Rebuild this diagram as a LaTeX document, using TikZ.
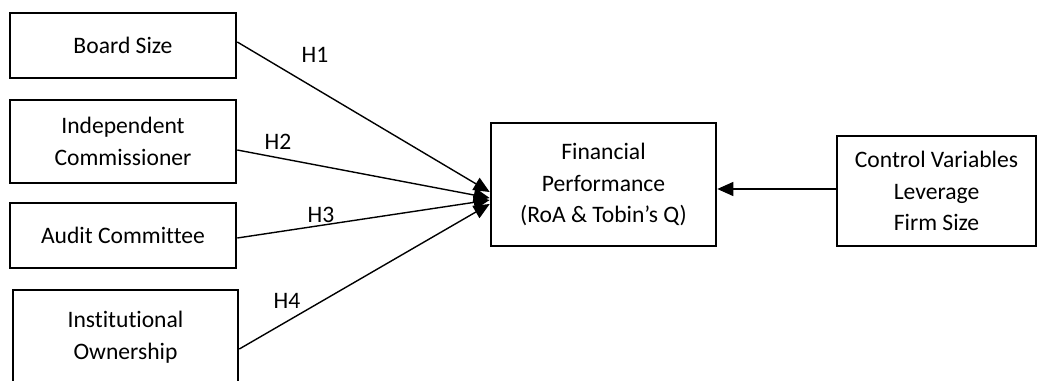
\documentclass[tikz,border=0pt]{standalone}
\usepackage{fontspec}
\setmainfont{Carlito}[Ligatures=NoCommon]
\usetikzlibrary{arrows.meta}

\begin{document}
\begin{tikzpicture}[x=0.5pt,y=-0.5pt,font=\fontsize{11.8}{15.8}\selectfont,
  box/.style={draw,line width=1.3pt,align=center,inner sep=0pt},
  link/.style={line width=0.7pt,-{Triangle[length=8pt,width=7pt]}}]
  \useasboundingbox (0,0) rectangle (1038,380);
  \node[box,minimum width=113pt,minimum height=32.5pt] (bs) at (123,45.5) {Board Size};
  \node[box,minimum width=113pt,minimum height=41.5pt] (ic) at (123,141.5) {Independent\\Commissioner};
  \node[box,minimum width=113pt,minimum height=32.5pt] (ac) at (123,235.5) {Audit Committee};
  \node[box,minimum width=112.5pt,minimum height=47pt] (io) at (125.5,337) {Institutional\\Ownership};
  \node[box,minimum width=112.5pt,minimum height=61.5pt] (fp) at (603.5,184.5) {Financial\\Performance\\(RoA \& Tobin’s Q)};
  \node[box,minimum width=99.5pt,minimum height=55pt] (cv) at (936.5,191) {Control Variables\\Leverage\\Firm Size};
  \node (h1) at (315,55) {H1};
  \node (h2) at (278,142) {H2};
  \node (h3) at (321,215) {H3};
  \node (h4) at (287,301) {H4};
  \draw[link] ([yshift=1.75pt]bs.east) -- ([yshift=-3.75pt]fp.west);
  \draw[link] ([yshift=-4.25pt]ic.east) -- ([yshift=-6.75pt]fp.west);
  \draw[link] ([yshift=-1.25pt]ac.east) -- ([yshift=-7.75pt]fp.west);
  \draw[link] ([yshift=-6pt]io.east) -- ([yshift=-9.75pt]fp.west);
  \draw[link] ([yshift=1pt]cv.west) -- ([yshift=-2.25pt]fp.east);
\end{tikzpicture}
\end{document}
